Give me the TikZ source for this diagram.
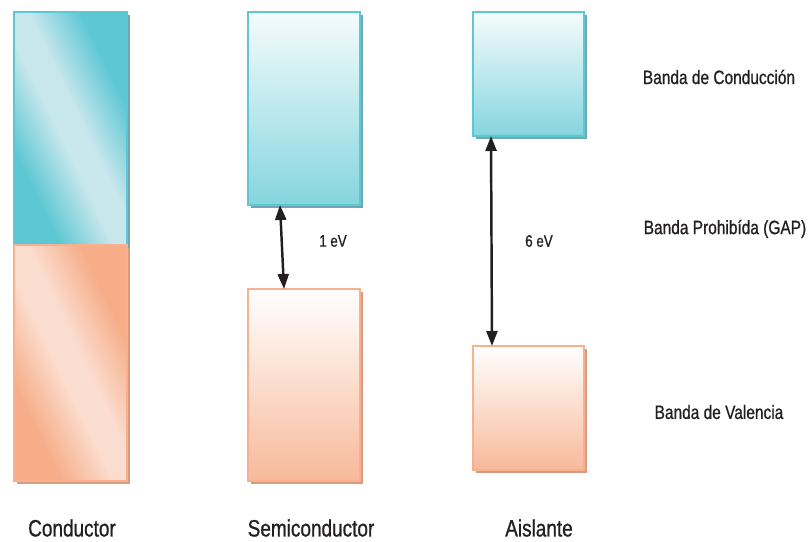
\documentclass[tikz,border=0pt]{standalone}
\usepackage{fontspec}
\setmainfont{Liberation Sans}[FakeStretch=0.8, FakeBold=0.8]
\usetikzlibrary{arrows.meta,shadows}

\definecolor{cyanD}{HTML}{5DC7D4}
\definecolor{cyanL}{HTML}{C8E7EC}
\definecolor{cyanB}{HTML}{5CC8D6}
\definecolor{cyanS}{HTML}{6FA8AE}
\definecolor{orangeD}{HTML}{F6AD88}
\definecolor{orangeL}{HTML}{FBDDCF}
\definecolor{orangeB}{HTML}{F7B191}
\definecolor{orangeS}{HTML}{D99A7E}
\definecolor{ink}{HTML}{231F20}

% diagonal streaks for the metal bands
\pgfdeclarehorizontalshading{cyanstreak}{100bp}{color(0bp)=(cyanD); color(30bp)=(cyanD); color(46bp)=(cyanL); color(54bp)=(cyanL); color(70bp)=(cyanD); color(100bp)=(cyanD)}
\pgfdeclarehorizontalshading{orangestreak}{100bp}{color(0bp)=(orangeD); color(30bp)=(orangeD); color(46bp)=(orangeL); color(54bp)=(orangeL); color(70bp)=(orangeD); color(100bp)=(orangeD)}

\tikzset{
  band/.style={inner sep=0pt, outer sep=0pt, line width=1.1pt},
  cband/.style={band, draw=cyanB,
    drop shadow={shadow xshift=0.06cm, shadow yshift=-0.06cm, fill=cyanS, opacity=1}},
  vband/.style={band, draw=orangeB,
    drop shadow={shadow xshift=0.06cm, shadow yshift=-0.06cm, fill=orangeS, opacity=1}},
  gaparrow/.style={{Triangle[length=0.3cm,width=0.22cm]}-{Triangle[length=0.3cm,width=0.22cm]}, line width=1.4pt, draw=ink},
  lbl/.style={text=ink, font=\fontsize{11}{13}\selectfont},
  mat/.style={text=ink, font=\fontsize{13.5}{16}\selectfont},
  ev/.style={text=ink, font=\fontsize{9.5}{11}\selectfont}
}

\begin{document}
\begin{tikzpicture}
\useasboundingbox (0,0) rectangle (16.22,-10.82);

% conductor
\node[cband, shading=cyanstreak, shading angle=26, minimum width=2.26cm, minimum height=4.66cm] (condTop) at (1.41,-2.57) {};
\node[vband, shading=orangestreak, shading angle=26, minimum width=2.26cm, minimum height=4.72cm] (condBot) at (1.41,-7.26) {};

% semiconductor
\node[cband, top color=white!94!cyanD, bottom color=cyanD!75!white, minimum width=2.24cm, minimum height=3.86cm] (semiTop) at (6.08,-2.17) {};
\node[vband, top color=white, bottom color=orangeD!85!white, minimum width=2.24cm, minimum height=3.84cm] (semiBot) at (6.08,-7.70) {};

% aislante
\node[cband, top color=white!94!cyanD, bottom color=cyanD!75!white, minimum width=2.22cm, minimum height=2.48cm] (aisTop) at (10.57,-1.48) {};
\node[vband, top color=white, bottom color=orangeD!85!white, minimum width=2.22cm, minimum height=2.48cm] (aisBot) at (10.57,-8.16) {};

% gaps
\draw[gaparrow] ([xshift=-0.48cm]semiTop.south) -- ([xshift=-0.40cm]semiBot.north);
\draw[gaparrow] ([xshift=-0.75cm]aisTop.south) -- ([xshift=-0.73cm]aisBot.north);
\node[ev] (gapSemi) at (6.66,-4.82) {1 eV};
\node[ev] (gapAis) at (10.78,-4.82) {6 eV};

% band names
\node[lbl] (conduccion) at (14.38,-1.54) {Banda de Conducción};
\node[lbl] (prohibida) at (14.50,-4.58) {Banda Prohibída (GAP)};
\node[lbl] (valencia) at (14.38,-8.24) {Banda de Valencia};

% materials
\node[mat] (conductor) at (1.44,-10.56) {Conductor};
\node[mat] (semiconductor) at (6.22,-10.56) {Semiconductor};
\node[mat] (aislante) at (10.78,-10.56) {Aislante};
\end{tikzpicture}
\end{document}
